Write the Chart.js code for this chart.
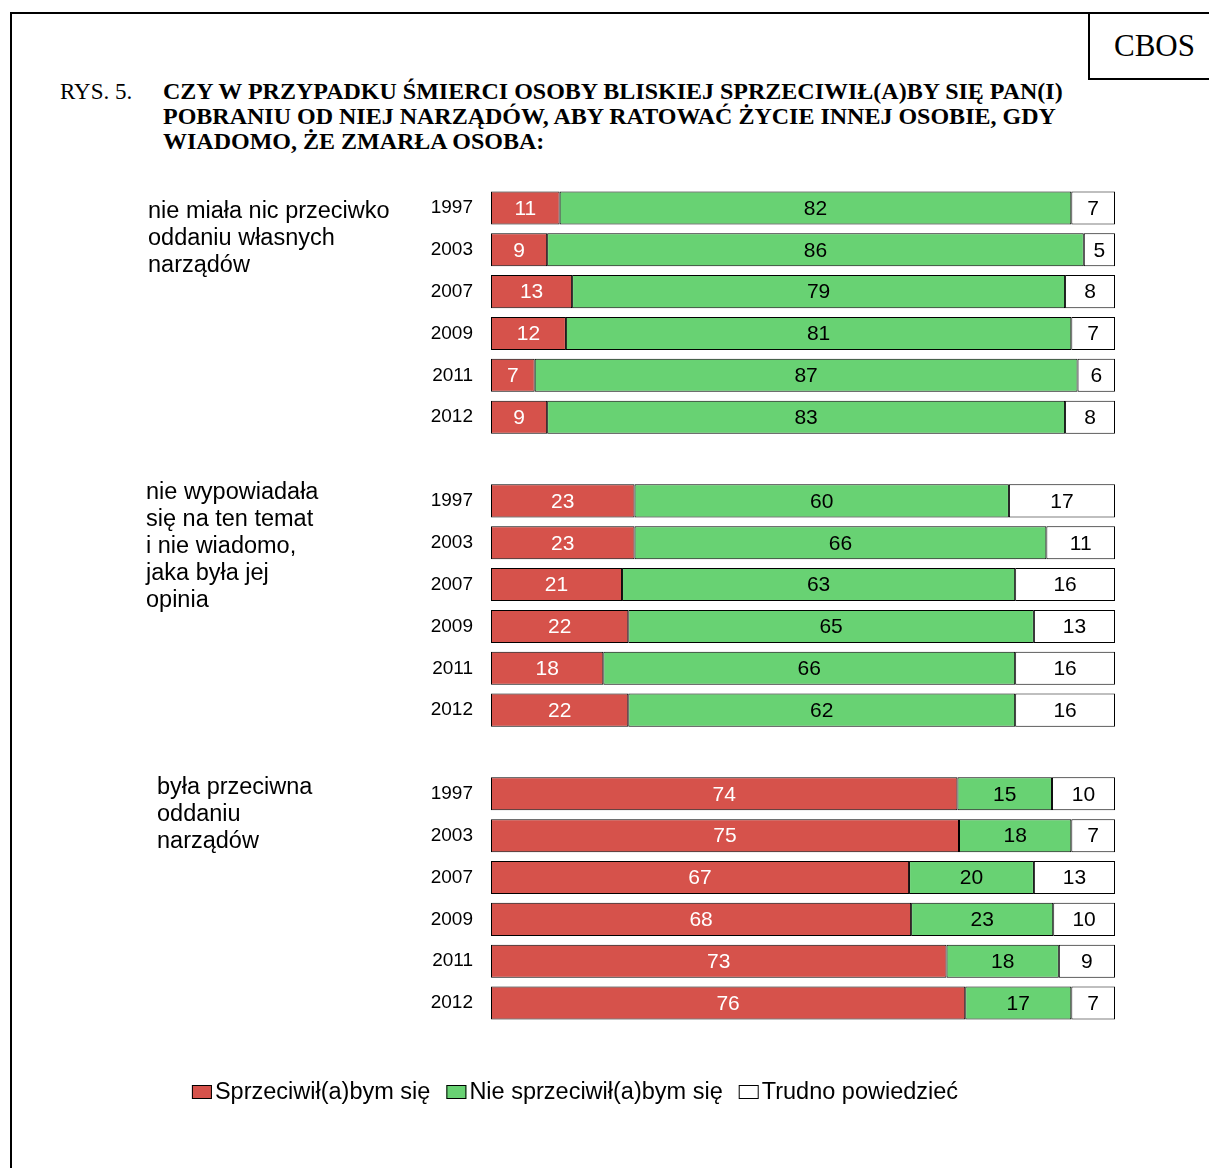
<!DOCTYPE html>
<html>
<head>
<meta charset="utf-8">
<script src="https://cdn.jsdelivr.net/npm/chart.js@4.4.0/dist/chart.umd.min.js"></script>
<style>
  body { margin: 0; background: #fff; overflow: hidden; }
  #page { position: relative; width: 1209px; height: 1168px; overflow: hidden; }
  .frame { position: absolute; left: 10px; top: 12px; width: 1250px; height: 1200px; border: 2px solid #000; }
  .cbos { position: absolute; left: 1088px; top: 12px; width: 160px; height: 64px; border: 2px solid #000;
          font: 31px "Liberation Serif", "Times New Roman", serif; line-height: 64px; padding-left: 24px; box-sizing: content-box; }
  .rys { position: absolute; left: 60px; top: 79px; font: 23px "Liberation Serif", serif; line-height: 25px; }
  .title { position: absolute; left: 163px; top: 79px; font: bold 24px "Liberation Serif", serif; line-height: 25px; }
  canvas { position: absolute; left: 0; top: 0; }
</style>
</head>
<body>
<div id="page">
  <div class="frame"></div>
  <div class="cbos">CBOS</div>
  <div class="rys">RYS. 5.</div>
  <div class="title">CZY W PRZYPADKU ŚMIERCI OSOBY BLISKIEJ SPRZECIWIŁ(A)BY SIĘ PAN(I)<br>POBRANIU OD NIEJ NARZĄDÓW, ABY RATOWAĆ ŻYCIE INNEJ OSOBIE, GDY<br>WIADOMO, ŻE ZMARŁA OSOBA:</div>
  <canvas id="chart" width="1209" height="1168"></canvas>
</div>
<script>
// data
const years = ["1997", "2003", "2007", "2009", "2011", "2012"];
const groupNames = [
  ["nie miała nic przeciwko", "oddaniu własnych", "narządów"],
  ["nie wypowiadała", "się na ten temat", "i nie wiadomo,", "jaka była jej", "opinia"],
  ["była przeciwna", "oddaniu", "narządów"]
];
const seriesNames = ["Sprzeciwił(a)bym się", "Nie sprzeciwił(a)bym się", "Trudno powiedzieć"];
const sprzeciw   = [11, 9, 13, 12, 7, 9,   23, 23, 21, 22, 18, 22,   74, 75, 67, 68, 73, 76];
const niesprzeciw = [82, 86, 79, 81, 87, 83, 60, 66, 63, 65, 66, 62,  15, 18, 20, 23, 18, 17];
const trudno     = [7, 5, 8, 7, 6, 8,      17, 11, 16, 13, 16, 16,   10, 7, 13, 10, 9, 7];

const colors = ["#d6524b", "#68d273", "#ffffff"];
const textColors = ["#ffffff", "#000000", "#000000"];
// label offsets (px) relative to first bar of each group, and left x
const groupLabelX = [148, 146, 157];
const groupLabelDy = [4, -8, -6];

// build categories with a blank slot between groups
const labels = [];
const raw = [[], [], []];
const firstIndex = [];
groupNames.forEach((g, gi) => {
  if (gi > 0) { labels.push(""); raw.forEach(r => r.push(null)); }
  firstIndex.push(labels.length);
  years.forEach((y, yi) => {
    const k = gi * years.length + yi;
    labels.push(y);
    raw[0].push(sprzeciw[k]);
    raw[1].push(niesprzeciw[k]);
    raw[2].push(trudno[k]);
  });
});
// bars are drawn as share of the row total (rows summing to 99/101 still fill the width)
const shares = raw.map((r, si) => r.map((v, i) => {
  if (v === null) return null;
  const tot = raw[0][i] + raw[1][i] + raw[2][i];
  return v / tot * 100;
}));

const extras = {
  id: "extras",
  afterDatasetsDraw(chart) {
    const ctx = chart.ctx;
    ctx.save();
    ctx.textAlign = "center";
    ctx.textBaseline = "middle";
    ctx.font = "21px Arial, 'Liberation Sans', sans-serif";
    chart.data.datasets.forEach((ds, di) => {
      const meta = chart.getDatasetMeta(di);
      meta.data.forEach((el, i) => {
        const v = raw[di][i];
        if (v === null) return;
        ctx.fillStyle = textColors[di];
        ctx.fillText(String(v), (el.x + el.base) / 2, el.y + 1);
      });
    });
    // group labels
    const ys = chart.scales.y;
    ctx.textAlign = "left";
    ctx.fillStyle = "#000";
    ctx.font = "23.5px Arial, 'Liberation Sans', sans-serif";
    groupNames.forEach((g, gi) => {
      const y0 = ys.getPixelForValue(firstIndex[gi]) + groupLabelDy[gi];
      g.forEach((line, li) => ctx.fillText(line, groupLabelX[gi], y0 + li * 27));
    });
    // legend
    ctx.font = "23.5px Arial, 'Liberation Sans', sans-serif";
    const boxW = 20, boxH = 14, gapBox = 3, gapItem = 16;
    const widths = seriesNames.map(n => boxW + gapBox + ctx.measureText(n).width);
    const total = widths.reduce((a, b) => a + b, 0) + gapItem * (seriesNames.length - 1);
    let x = 575 - total / 2;
    const ly = 1092;
    seriesNames.forEach((n, i) => {
      ctx.fillStyle = colors[i];
      ctx.fillRect(x, ly - 7, boxW, boxH);
      ctx.strokeStyle = "#000";
      ctx.lineWidth = 1;
      ctx.strokeRect(x + 0.5, ly - 6.5, boxW - 1, boxH - 1);
      ctx.fillStyle = "#000";
      ctx.fillText(n, x + boxW + gapBox, ly + 1);
      x += widths[i] + gapItem;
    });
    ctx.restore();
  }
};

new Chart(document.getElementById("chart"), {
  type: "bar",
  data: {
    labels: labels,
    datasets: seriesNames.map((n, i) => ({
      label: n,
      data: shares[i],
      backgroundColor: colors[i],
      borderColor: "#000",
      borderWidth: 1,
      borderSkipped: false,
      barPercentage: 0.79,
      categoryPercentage: 1
    }))
  },
  options: {
    indexAxis: "y",
    responsive: false,
    animation: false,
    layout: { padding: { top: 187, bottom: 144, right: 94, left: 0 } },
    plugins: { legend: { display: false }, tooltip: { enabled: false } },
    scales: {
      x: { stacked: true, min: 0, max: 100, display: false },
      y: {
        stacked: true,
        grid: { display: false, drawTicks: false },
        border: { display: false },
        ticks: { color: "#000", font: { size: 19, family: "Arial, 'Liberation Sans', sans-serif" }, padding: 18, autoSkip: false },
        afterFit(scale) { scale.width = 491; }
      }
    }
  },
  plugins: [extras]
});
</script>
</body>
</html>
